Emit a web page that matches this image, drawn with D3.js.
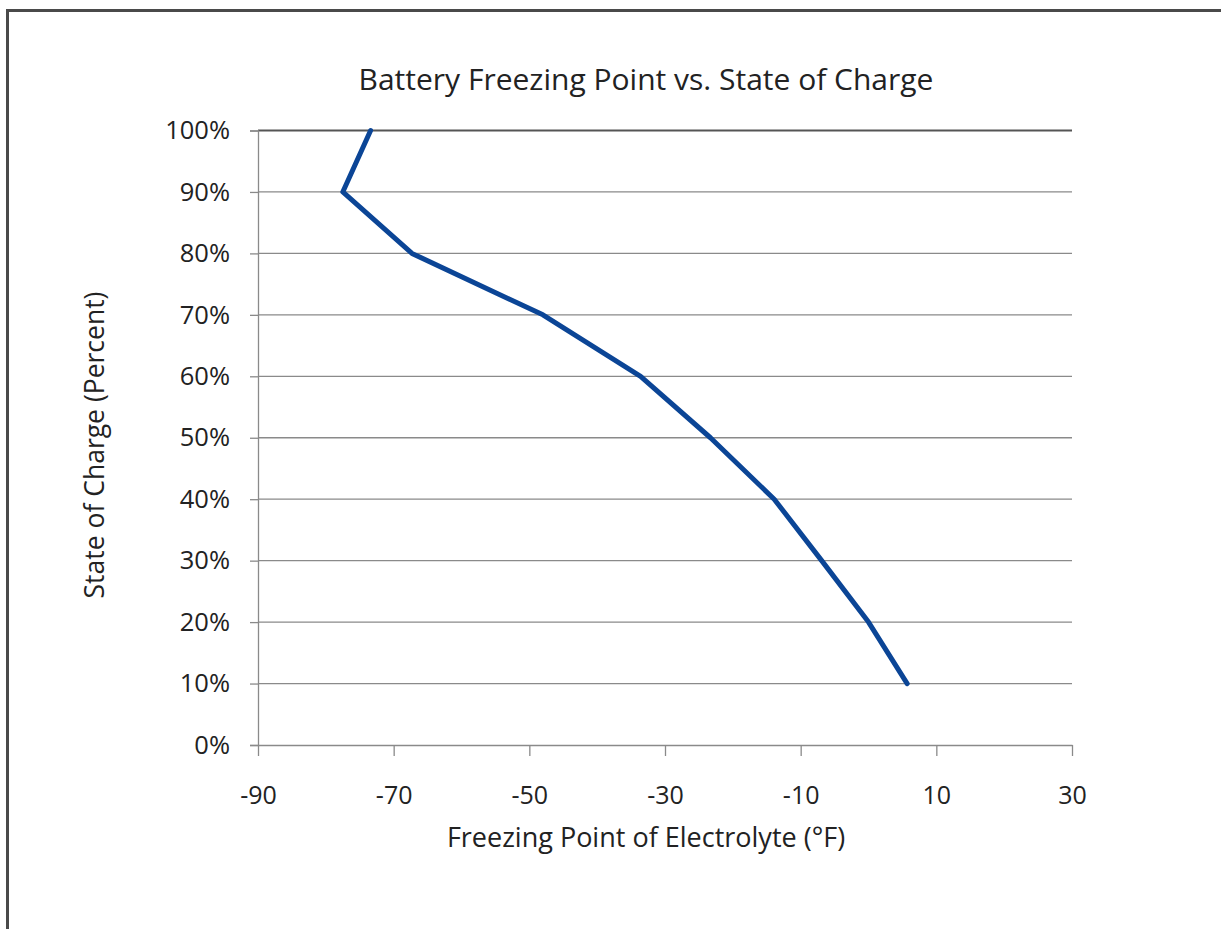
<!DOCTYPE html>
<html>
<head>
<meta charset="utf-8">
<script src="https://cdn.jsdelivr.net/npm/d3@7"></script>
<style>
  html, body { margin: 0; padding: 0; background: #fff; }
  svg { display: block; }
  text { font-family: "Open Sans", "Noto Sans", sans-serif; fill: #222; }
</style>
</head>
<body>
<svg id="chart" width="1221" height="929"></svg>
<script>
// State of charge (%) and the electrolyte freezing point (°F) at each level
const chargeLevels = [100, 90, 80, 70, 60, 50, 40, 30, 20, 10];
const freezingPointsF = [-73.4, -77.5, -67.3, -48, -33.6, -23.3, -13.9, -6.9, 0, 5.7];

const xTickValues = [-90, -70, -50, -30, -10, 10, 30];
const yTickValues = [0, 10, 20, 30, 40, 50, 60, 70, 80, 90, 100];

const chartTitle = "Battery Freezing Point vs. State of Charge";
const xTitle = "Freezing Point of Electrolyte (°F)";
const yTitle = "State of Charge (Percent)";

const fontStack = "'Open Sans', 'Noto Sans', sans-serif";
const svg = d3.select("#chart");

// outer chart frame (runs off the right and bottom edges)
svg.append("rect")
  .attr("x", 7.5).attr("y", 10.5)
  .attr("width", 1300).attr("height", 1000)
  .attr("fill", "none").attr("stroke", "#4a4a4a").attr("stroke-width", 3);

const plot = { left: 258, right: 1072, top: 130.5, bottom: 745 };

const x = d3.scaleLinear().domain([-90, 30]).range([plot.left, plot.right]);
const y = d3.scaleLinear().domain([0, 100]).range([plot.bottom, plot.top]);

// horizontal gridlines
svg.append("g")
  .selectAll("line")
  .data(yTickValues.filter(v => v > 0))
  .join("line")
  .attr("x1", plot.left).attr("x2", plot.right)
  .attr("y1", d => y(d)).attr("y2", d => y(d))
  .attr("stroke", d => d === 100 ? "#555" : "#8a8a8a")
  .attr("stroke-width", d => d === 100 ? 2 : 1.3);

// y axis
const yAxis = svg.append("g")
  .attr("transform", `translate(${plot.left},0)`)
  .call(d3.axisLeft(y).tickValues(yTickValues).tickFormat(d => d + "%").tickSize(8).tickPadding(20));
yAxis.select(".domain").attr("stroke", "#8a8a8a").attr("stroke-width", 1.3);
yAxis.selectAll(".tick line").attr("stroke", "#8a8a8a").attr("stroke-width", 1.3);
yAxis.selectAll(".tick text").attr("font-size", 25.5).attr("fill", "#222")
  .attr("font-family", fontStack);

// x axis (plain hyphen for negative labels)
const xAxis = svg.append("g")
  .attr("transform", `translate(0,${plot.bottom})`)
  .call(d3.axisBottom(x).tickValues(xTickValues).tickFormat(d => String(d))
    .tickSize(11).tickSizeOuter(0).tickPadding(30));
xAxis.select(".domain").attr("stroke", "#8a8a8a").attr("stroke-width", 1.3);
xAxis.selectAll(".tick text").attr("font-size", 25).attr("fill", "#222")
  .attr("font-family", fontStack);
xAxis.selectAll(".tick line").attr("stroke", "#8a8a8a").attr("stroke-width", 1.3);

// freezing point curve
const points = chargeLevels.map((c, i) => ({ charge: c, temp: freezingPointsF[i] }));
const line = d3.line().x(d => x(d.temp)).y(d => y(d.charge));
svg.append("path")
  .datum(points)
  .attr("d", line)
  .attr("fill", "none")
  .attr("stroke", "#0b4596")
  .attr("stroke-width", 5)
  .attr("stroke-linejoin", "round")
  .attr("stroke-linecap", "round");

// titles
svg.append("text")
  .attr("x", 646).attr("y", 90)
  .attr("text-anchor", "middle")
  .attr("font-size", 30)
  .text(chartTitle);

svg.append("text")
  .attr("x", 646).attr("y", 847)
  .attr("text-anchor", "middle")
  .attr("font-size", 27)
  .text(xTitle);

svg.append("text")
  .attr("transform", "translate(104,445) rotate(-90)")
  .attr("text-anchor", "middle")
  .attr("font-size", 26.5)
  .text(yTitle);
</script>
</body>
</html>
